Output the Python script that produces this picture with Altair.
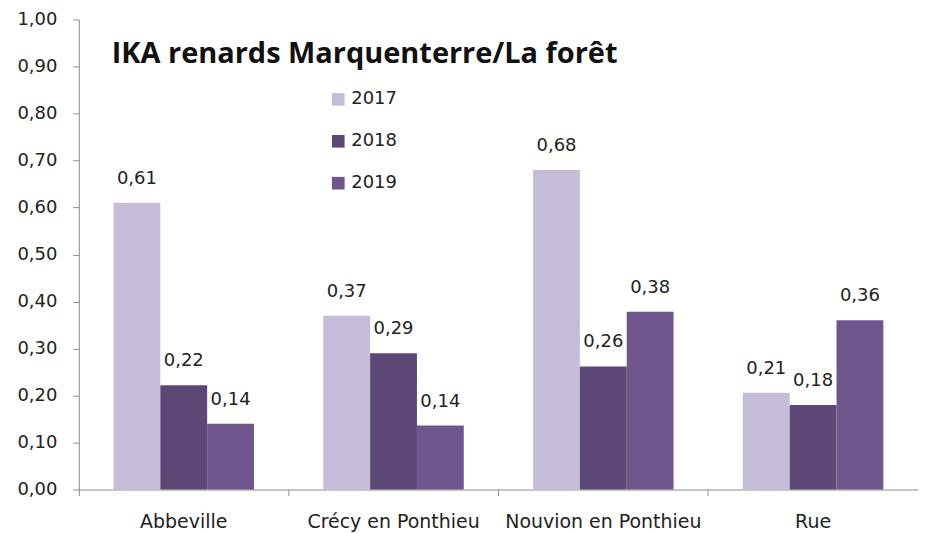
import altair as alt
import pandas as pd

sites = ["Abbeville", "Crécy en Ponthieu", "Nouvion en Ponthieu", "Rue"]
years = ["2017", "2018", "2019"]
v2017 = [0.61, 0.37, 0.68, 0.206]
v2018 = [0.222, 0.29, 0.262, 0.18]
v2019 = [0.14, 0.136, 0.378, 0.36]
colors = ["#C5BDD8", "#5C4776", "#6F568C"]
title_text = "IKA renards Marquenterre/La forêt"
y_ticks = [round(i * 0.1, 1) for i in range(11)]

rows = []
for yr, vals in zip(years, [v2017, v2018, v2019]):
    for s, v in zip(sites, vals):
        rows.append({"site": s, "year": yr, "value": v})
df = pd.DataFrame(rows)

W, H = 841, 471
FONT = "DejaVu Sans"
FS = 18

x_enc = alt.X(
    "site:N", sort=sites,
    scale=alt.Scale(paddingInner=0, paddingOuter=0),
    axis=alt.Axis(title=None, bandPosition=0, labelAngle=0, labelLimit=400,
                  labelFontSize=19, labelFont=FONT, labelColor="#222222",
                  labelPadding=17, tickSize=6, tickColor="#8c8c8c",
                  domainColor="#8c8c8c", grid=False),
)
xo_enc = alt.XOffset("year:N", sort=years,
                     scale=alt.Scale(paddingInner=0, paddingOuter=0.74))
y_enc = alt.Y(
    "value:Q",
    scale=alt.Scale(domain=[0, 1], nice=False),
    axis=alt.Axis(title=None, values=y_ticks,
                  labelExpr="replace(format(datum.value, '.2f'), '.', ',')",
                  labelFontSize=FS, labelFont=FONT, labelColor="#222222",
                  labelPadding=16, tickSize=6, tickColor="#8c8c8c",
                  domainColor="#8c8c8c", grid=False),
)

base = alt.Chart(df).encode(x=x_enc, xOffset=xo_enc, y=y_enc)

bars = base.mark_bar().encode(
    color=alt.Color(
        "year:N", sort=years,
        scale=alt.Scale(domain=years, range=colors),
        legend=alt.Legend(orient="none", legendX=251, legendY=71, title=None,
                          symbolType="square", symbolSize=160, symbolStrokeWidth=0,
                          labelFontSize=FS, labelFont=FONT, labelColor="#222222",
                          rowPadding=24, labelOffset=4),
    )
)

labels = base.transform_calculate(
    lab="replace(format(datum.value, '.2f'), '.', ',')"
).mark_text(baseline="middle", dy=-24, fontSize=FS, font=FONT, color="#222222").encode(
    text="lab:N"
)

title = alt.Chart(pd.DataFrame({"t": [title_text]})).mark_text(
    align="left", baseline="middle", fontSize=29, font="Open Sans",
    fontWeight="bold", color="#111111"
).encode(text="t:N", x=alt.value(33), y=alt.value(35))

chart = alt.layer(bars, labels, title).properties(
    width=W, height=H,
    autosize=alt.AutoSizeParams(type="none"),
    padding={"left": 71, "top": 11, "right": 0, "bottom": 43},
).configure_view(stroke=None)

chart.save("out.html", embed_options={"renderer": "svg", "actions": False})
